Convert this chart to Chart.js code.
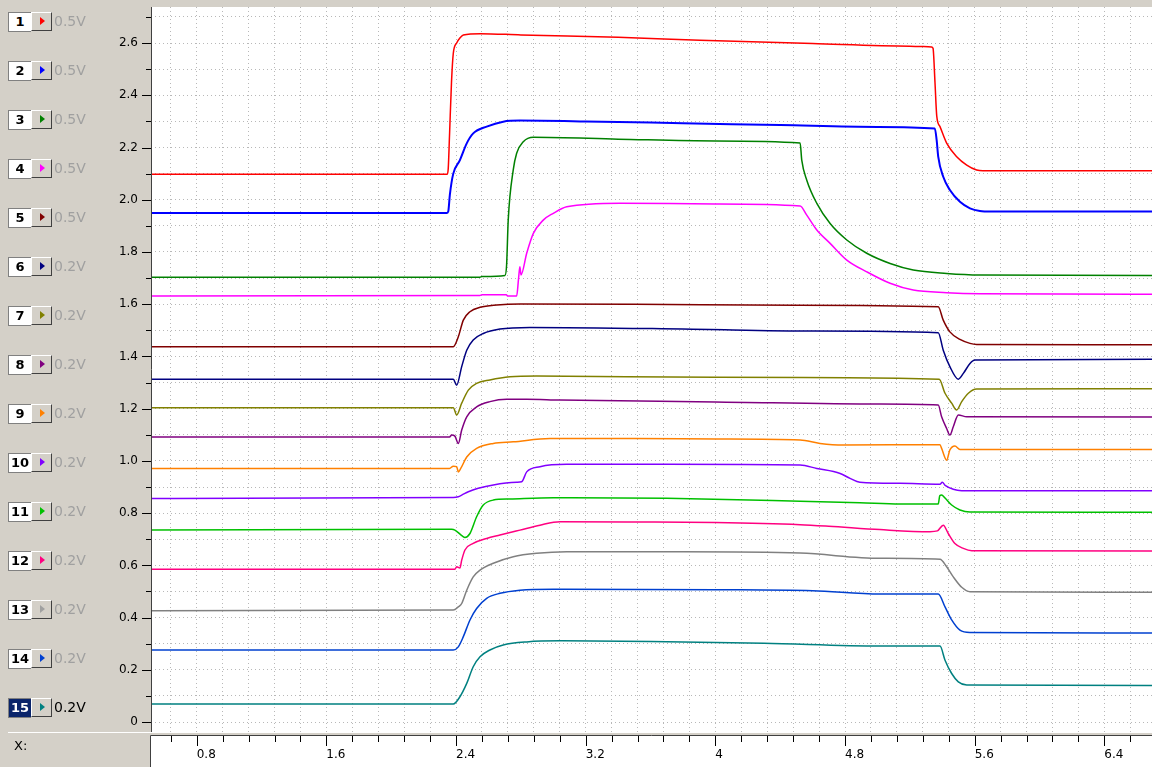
<!DOCTYPE html>
<html>
<head>
<meta charset="utf-8">
<script src="https://cdn.jsdelivr.net/npm/chart.js@4.4.0/dist/chart.umd.min.js"></script>
<style>
  html, body { margin: 0; padding: 0; background: #d4d0c8; overflow: hidden; }
  #wrap { position: relative; width: 1152px; height: 767px; }
  #c { position: absolute; left: 0; top: 0; }
  .row { position: absolute; left: 8px; height: 19px; }
  .num { position: absolute; left: 0; top: 0; width: 22px; height: 18px; background: #fff;
         border: 1px solid #808080; border-right: none; font: bold 13px "DejaVu Sans", sans-serif;
         color: #000; text-align: center; line-height: 18px; }
  .num.sel { background: #0a246a; color: #fff; }
  .btn { position: absolute; left: 23px; top: 0; width: 19px; height: 17px; background: #d4d0c8;
         border-top: 1px solid #ffffff; border-left: 1px solid #ffffff;
         border-bottom: 1px solid #404040; border-right: 1px solid #404040; }
  .tri { position: absolute; left: 8px; top: 4px; width: 0; height: 0;
         border-top: 4px solid transparent; border-bottom: 4px solid transparent; border-left: 5px solid red; }
  .lab { position: absolute; left: 46px; top: 0; font: 14px "DejaVu Sans", sans-serif; color: #a0a0a0;
         line-height: 19px; white-space: nowrap; }
  .lab.sel { color: #000; }
  #xl { position: absolute; left: 14px; top: 738px; font: 13px "DejaVu Sans", sans-serif; color: #000; }
</style>
</head>
<body>
<div id="wrap">
  <canvas id="c" width="1152" height="767"></canvas>
  <div id="panel"></div>
  <div id="xl">X:</div>
</div>
<script>
// ---------- data ----------
const channelNumbers = ['1','2','3','4','5','6','7','8','9','10','11','12','13','14','15'];
const channelScales  = ['0.5V','0.5V','0.5V','0.5V','0.5V','0.2V','0.2V','0.2V','0.2V','0.2V','0.2V','0.2V','0.2V','0.2V','0.2V'];
const channelColors  = ['#ff0000','#0000ff','#008000','#ff00ff','#800000','#000080','#808000','#800080',
                        '#ff8000','#8000ff','#00c000','#ff0080','#808080','#0040d0','#008080'];
const buttonColors   = ['#ff0000','#0000ff','#008000','#ff00ff','#800000','#000080','#808000','#800080',
                        '#ff8000','#8000ff','#00c000','#ff0080','#a0a0a0','#0040d0','#008080'];

const xTickValues = [0.8, 1.6, 2.4, 3.2, 4, 4.8, 5.6, 6.4];
const xTickLabels = ['0.8','1.6','2.4','3.2','4','4.8','5.6','6.4'];
const yTickValues = [0, 0.2, 0.4, 0.6, 0.8, 1.0, 1.2, 1.4, 1.6, 1.8, 2.0, 2.2, 2.4, 2.6];
const yTickLabels = ['0','0.2','0.4','0.6','0.8','1.0','1.2','1.4','1.6','1.8','2.0','2.2','2.4','2.6'];

const ch1 = [[0.518,2.098],[2.346,2.098],[2.352,2.12],[2.360,2.25],[2.372,2.45],[2.383,2.56],[2.404,2.60],[2.425,2.62],[2.445,2.631],[2.55,2.636],[2.8,2.631],[3.4,2.622],[3.905,2.611],[4.6,2.598],[5.2,2.588],[5.334,2.585],[5.343,2.58],[5.355,2.45],[5.366,2.32],[5.386,2.28],[5.427,2.217],[5.489,2.165],[5.551,2.133],[5.612,2.114],[5.65,2.111],[6.694,2.111]];
const ch2 = [[0.518,1.949],[2.342,1.949],[2.352,1.955],[2.362,2.02],[2.383,2.100],[2.424,2.152],[2.466,2.216],[2.506,2.254],[2.589,2.280],[2.691,2.299],[2.794,2.303],[3.2,2.300],[3.8,2.293],[4.4,2.286],[5.0,2.279],[5.354,2.273],[5.365,2.23],[5.375,2.165],[5.406,2.088],[5.447,2.037],[5.509,1.992],[5.571,1.967],[5.632,1.957],[5.7,1.955],[6.694,1.955]];
const ch3 = [[0.518,1.703],[2.547,1.703],[2.56,1.706],[2.702,1.710],[2.712,1.75],[2.722,1.922],[2.753,2.114],[2.774,2.178],[2.815,2.222],[2.877,2.239],[3.4,2.232],[4.0,2.225],[4.523,2.217],[4.533,2.152],[4.564,2.075],[4.626,1.986],[4.708,1.909],[4.811,1.846],[4.934,1.795],[5.078,1.756],[5.221,1.731],[5.427,1.718],[5.633,1.712],[6.694,1.710]];
const ch4 = [[0.518,1.631],[2.547,1.633],[2.56,1.636],[2.71,1.636],[2.72,1.631],[2.774,1.631],[2.786,1.70],[2.794,1.743],[2.801,1.712],[2.836,1.795],[2.877,1.871],[2.938,1.922],[3.0,1.948],[3.083,1.973],[3.411,1.987],[4.0,1.984],[4.523,1.976],[4.564,1.941],[4.626,1.884],[4.708,1.833],[4.811,1.769],[4.934,1.724],[5.078,1.680],[5.221,1.654],[5.427,1.644],[5.633,1.640],[6.694,1.638]];
const ch5 = [[0.518,1.437],[2.383,1.437],[2.414,1.475],[2.445,1.539],[2.486,1.571],[2.548,1.588],[2.651,1.597],[2.794,1.601],[3.5,1.600],[4.5,1.596],[5.375,1.590],[5.406,1.539],[5.447,1.494],[5.509,1.465],[5.571,1.450],[5.612,1.446],[6.694,1.445]];
const ch6 = [[0.518,1.313],[2.383,1.313],[2.404,1.290],[2.435,1.361],[2.466,1.424],[2.506,1.463],[2.568,1.488],[2.671,1.505],[2.856,1.511],[3.8,1.505],[4.6,1.497],[5.375,1.491],[5.406,1.424],[5.447,1.361],[5.499,1.313],[5.530,1.335],[5.571,1.373],[5.602,1.386],[6.694,1.389]];
const ch7 = [[0.518,1.204],[2.383,1.204],[2.404,1.176],[2.435,1.221],[2.476,1.271],[2.527,1.297],[2.609,1.310],[2.733,1.322],[2.897,1.325],[4.0,1.320],[5.381,1.313],[5.417,1.259],[5.458,1.221],[5.489,1.195],[5.520,1.227],[5.561,1.259],[5.612,1.275],[6.694,1.276]];
const ch8 = [[0.518,1.092],[2.36,1.092],[2.373,1.099],[2.393,1.095],[2.414,1.067],[2.435,1.118],[2.466,1.169],[2.527,1.207],[2.609,1.227],[2.712,1.236],[2.836,1.236],[3.041,1.233],[4.0,1.226],[5.015,1.218],[5.375,1.214],[5.396,1.169],[5.427,1.124],[5.447,1.099],[5.468,1.131],[5.499,1.176],[5.551,1.169],[6.694,1.168]];
const ch9 = [[0.518,0.971],[2.36,0.971],[2.383,0.980],[2.404,0.978],[2.414,0.958],[2.429,0.971],[2.466,1.015],[2.527,1.048],[2.630,1.067],[2.753,1.073],[2.98,1.086],[3.5,1.086],[4.008,1.084],[4.523,1.080],[4.646,1.067],[4.789,1.061],[5.386,1.062],[5.396,1.048],[5.427,1.003],[5.447,1.042],[5.478,1.057],[5.509,1.044],[6.694,1.044]];
const ch10 = [[0.518,0.856],[2.383,0.860],[2.414,0.863],[2.435,0.869],[2.476,0.882],[2.537,0.895],[2.630,0.908],[2.774,0.918],[2.805,0.920],[2.836,0.958],[2.918,0.978],[3.083,0.987],[3.699,0.987],[4.523,0.984],[4.626,0.971],[4.770,0.952],[4.831,0.933],[4.892,0.918],[5.139,0.914],[5.386,0.911],[5.40,0.918],[5.42,0.905],[5.52,0.886],[6.694,0.886]];
const ch11 = [[0.518,0.735],[2.373,0.738],[2.393,0.735],[2.44,0.712],[2.455,0.707],[2.486,0.722],[2.527,0.786],[2.568,0.831],[2.630,0.850],[2.733,0.854],[3.0,0.859],[3.699,0.857],[4.523,0.846],[4.892,0.840],[5.139,0.835],[5.375,0.835],[5.385,0.867],[5.396,0.869],[5.417,0.858],[5.458,0.831],[5.509,0.812],[5.571,0.804],[6.694,0.803]];
const ch12 = [[0.518,0.585],[2.393,0.585],[2.404,0.595],[2.424,0.590],[2.435,0.620],[2.455,0.659],[2.506,0.684],[2.589,0.703],[2.671,0.716],[2.794,0.735],[2.918,0.754],[3.041,0.767],[3.5,0.766],[4.0,0.764],[4.523,0.756],[4.7,0.750],[5.015,0.737],[5.324,0.729],[5.37,0.732],[5.406,0.754],[5.437,0.722],[5.478,0.684],[5.530,0.665],[5.582,0.656],[6.694,0.655]];
const ch13 = [[0.518,0.426],[2.383,0.429],[2.414,0.441],[2.435,0.454],[2.466,0.505],[2.506,0.556],[2.548,0.582],[2.630,0.608],[2.753,0.633],[2.897,0.646],[3.083,0.652],[3.8,0.652],[4.523,0.647],[5.015,0.627],[5.386,0.623],[5.427,0.595],[5.468,0.556],[5.520,0.516],[5.571,0.499],[6.694,0.497]];
const ch14 = [[0.518,0.276],[2.383,0.276],[2.414,0.288],[2.445,0.327],[2.486,0.391],[2.527,0.435],[2.589,0.474],[2.671,0.493],[2.794,0.505],[3.0,0.509],[4.0,0.507],[4.6,0.503],[5.015,0.490],[5.375,0.490],[5.417,0.441],[5.458,0.391],[5.509,0.352],[5.571,0.343],[6.694,0.341]];
const ch15 = [[0.518,0.069],[2.383,0.069],[2.424,0.097],[2.466,0.148],[2.506,0.212],[2.548,0.250],[2.609,0.276],[2.691,0.295],[2.836,0.307],[3.041,0.311],[3.6,0.309],[4.3,0.302],[5.015,0.291],[5.386,0.291],[5.417,0.237],[5.458,0.186],[5.499,0.154],[5.551,0.142],[6.694,0.140]];

const series = [ch1, ch2, ch3, ch4, ch5, ch6, ch7, ch8, ch9, ch10, ch11, ch12, ch13, ch14, ch15];
const xRange = [0.518, 6.694];
const yRange = [-0.038, 2.738];

// ---------- left channel panel ----------
const panel = document.getElementById('panel');
channelNumbers.forEach((n, i) => {
  const row = document.createElement('div');
  row.className = 'row';
  row.style.top = (12 + i * 49) + 'px';
  const sel = i === channelNumbers.length - 1;
  row.innerHTML = '<div class="num' + (sel ? ' sel' : '') + '">' + n + '</div>' +
    '<div class="btn"><div class="tri" style="border-left-color:' + buttonColors[i] + '"></div></div>' +
    '<div class="lab' + (sel ? ' sel' : '') + '">' + channelScales[i] + '</div>';
  panel.appendChild(row);
});

// ---------- chart ----------
const near = (a, b) => Math.abs(a - b) < 1e-6;
const xGrid = []; for (let k = 4; k <= 41; k++) xGrid.push(k * 16 / 100);
const yGrid = []; for (let k = 0; k <= 27; k++) yGrid.push(k / 10);

const framePlugin = {
  id: 'frame',
  beforeDraw(chart) {
    const { ctx, chartArea: a } = chart;
    ctx.save();
    ctx.fillStyle = '#ffffff';
    ctx.fillRect(a.left, a.top, a.right - a.left, a.bottom - a.top);
    ctx.fillRect(150, a.bottom + 3, chart.width - 150, chart.height - a.bottom - 3);
    ctx.restore();
  },
  afterDraw(chart) {
    const { ctx, chartArea: a } = chart;
    const xs = chart.scales.x, ys = chart.scales.y;
    ctx.save();
    ctx.fillStyle = '#d4d0c8';
    ctx.fillRect(0, a.bottom, chart.width, 3);
    ctx.fillStyle = '#ffffff';
    ctx.fillRect(8, a.bottom, chart.width - 8, 1);
    ctx.strokeStyle = '#404040';
    ctx.lineWidth = 1;
    ctx.beginPath();
    ctx.moveTo(a.left + 0.5, a.top);
    ctx.lineTo(a.left + 0.5, a.bottom);
    ctx.stroke();
    ctx.strokeStyle = '#000000';
    ctx.beginPath();
    ys.ticks.forEach(t => {
      const py = Math.round(ys.getPixelForValue(t.value)) + 0.5;
      const major = yTickValues.some(v => near(v, t.value));
      ctx.moveTo(a.left - (major ? 9 : 5), py);
      ctx.lineTo(a.left, py);
    });
    ctx.stroke();
    const top = a.bottom + 3;
    ctx.strokeStyle = '#404040';
    ctx.beginPath();
    ctx.moveTo(150.5, chart.height);
    ctx.lineTo(150.5, top + 0.5);
    ctx.lineTo(chart.width, top + 0.5);
    ctx.stroke();
    ctx.strokeStyle = '#000000';
    ctx.beginPath();
    xs.ticks.forEach(t => {
      const px = Math.round(xs.getPixelForValue(t.value)) + 0.5;
      const major = xTickValues.some(v => near(v, t.value));
      ctx.moveTo(px, top + 1);
      ctx.lineTo(px, top + 1 + (major ? 10 : 6));
    });
    ctx.stroke();
    ctx.restore();
  }
};

new Chart(document.getElementById('c'), {
  type: 'line',
  data: {
    datasets: series.map((d, i) => ({
      data: d,
      borderColor: channelColors[i],
      borderWidth: i === 1 ? 2 : 1.5,
      pointRadius: 0,
      cubicInterpolationMode: 'monotone',
      fill: false
    }))
  },
  options: {
    responsive: false,
    animation: false,
    devicePixelRatio: 1,
    layout: { padding: { top: 7, left: 0, right: 0, bottom: 0 } },
    plugins: { legend: { display: false }, tooltip: { enabled: false } },
    events: [],
    scales: {
      x: {
        type: 'linear',
        min: xRange[0], max: xRange[1],
        afterBuildTicks: s => { s.ticks = xGrid.map(v => ({ value: v })); },
        afterFit: s => { s.height = 35; s.paddingLeft = 0; s.paddingRight = 0; },
        grid: { color: '#b8b8b8', lineWidth: 1, drawTicks: false },
        border: { display: false, dash: [1, 3] },
        ticks: {
          autoSkip: false, maxRotation: 0, minRotation: 0, align: 'start', padding: 16,
          color: '#000000', font: { family: 'DejaVu Sans', size: 12 },
          callback: v => { const k = xTickValues.findIndex(t => near(t, v)); return k >= 0 ? xTickLabels[k] : ''; }
        }
      },
      y: {
        type: 'linear',
        min: yRange[0], max: yRange[1],
        afterBuildTicks: s => { s.ticks = yGrid.map(v => ({ value: v })); },
        afterFit: s => { s.width = 151; s.paddingTop = 0; s.paddingBottom = 0; },
        grid: { color: '#b8b8b8', lineWidth: 1, drawTicks: false },
        border: { display: false, dash: [1, 3] },
        ticks: {
          autoSkip: false, padding: 13,
          color: '#000000', font: { family: 'DejaVu Sans', size: 12 },
          callback: v => { const k = yTickValues.findIndex(t => near(t, v)); return k >= 0 ? yTickLabels[k] : ''; }
        }
      }
    }
  },
  plugins: [framePlugin]
});
</script>
</body>
</html>
